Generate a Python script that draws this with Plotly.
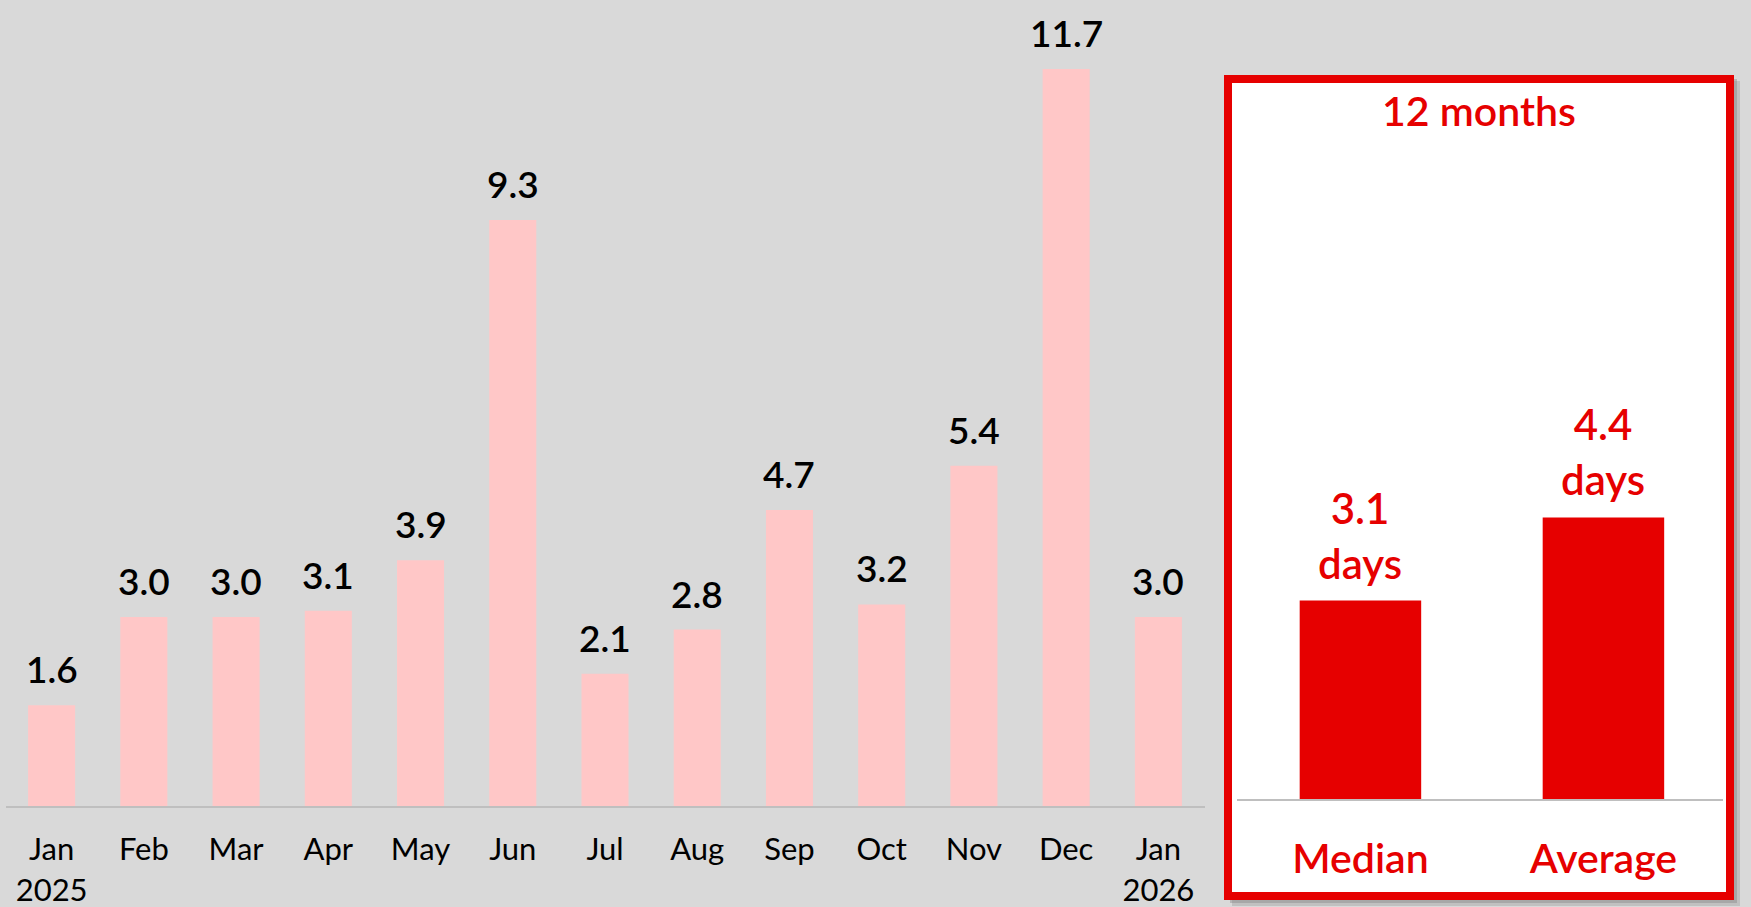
import plotly.graph_objects as go

months = ["Jan 2025", "Feb", "Mar", "Apr", "May", "Jun", "Jul", "Aug", "Sep", "Oct", "Nov", "Dec", "Jan 2026"]
month_ticks = ["Jan<br>2025", "Feb", "Mar", "Apr", "May", "Jun", "Jul", "Aug", "Sep", "Oct", "Nov", "Dec", "Jan<br>2026"]
days_values = [1.6, 3.0, 3.0, 3.1, 3.9, 9.3, 2.1, 2.8, 4.7, 3.2, 5.4, 11.7, 3.0]

stat_names = ["Median", "Average"]
stat_values = [3.1, 4.4]
panel_title = "12 months"

W, H = 1751, 907
FONT = "Lato"
RED = "#E60000"
PINK = "#FFC7C7"
BG = "#D9D9D9"

def px_x(v):
    return v / W

def px_y(v):
    return (H - v) / H

fig = go.Figure()

fig.add_trace(go.Bar(
    x=months, y=days_values, marker=dict(color=PINK, line=dict(width=0)),
    xaxis="x", yaxis="y", hoverinfo="skip", showlegend=False,
))
fig.add_trace(go.Bar(
    x=stat_names, y=stat_values, marker=dict(color=RED, line=dict(width=0)),
    xaxis="x2", yaxis="y2", hoverinfo="skip", showlegend=False,
))

annotations = []
for m, v in zip(months, days_values):
    annotations.append(dict(
        x=m, y=v, xref="x", yref="y", text=f"{v:.1f}", showarrow=False,
        yanchor="bottom", yshift=12,
        font=dict(family=FONT, size=37, color="#000000", weight=600),
    ))
for n, v in zip(stat_names, stat_values):
    annotations.append(dict(
        x=n, y=v, xref="x2", yref="y2", text=f"{v:.1f}<br>days", showarrow=False,
        yanchor="bottom", yshift=11,
        font=dict(family=FONT, size=42, color=RED, weight=600),
    ))
annotations.append(dict(
    x=px_x(1479), y=px_y(110), xref="paper", yref="paper", text=panel_title,
    showarrow=False, xanchor="center", yanchor="middle",
    font=dict(family=FONT, size=41, color=RED, weight=600),
))

shapes = [
    dict(type="rect", xref="paper", yref="paper", layer="below",
         x0=px_x(1232), x1=px_x(1740), y0=px_y(906), y1=px_y(81),
         fillcolor="rgba(120,120,120,0.25)", line=dict(width=0)),
    dict(type="rect", xref="paper", yref="paper", layer="below",
         x0=px_x(1230), x1=px_x(1737), y0=px_y(903), y1=px_y(79),
         fillcolor="rgba(120,120,120,0.35)", line=dict(width=0)),
    dict(type="rect", xref="paper", yref="paper", layer="below",
         x0=px_x(1228), x1=px_x(1730), y0=px_y(896), y1=px_y(79),
         fillcolor="#FFFFFF", line=dict(color=RED, width=8)),
]

fig.update_layout(
    width=W, height=H,
    margin=dict(l=0, r=0, t=0, b=0),
    paper_bgcolor=BG, plot_bgcolor="rgba(0,0,0,0)",
    font=dict(family=FONT),
    annotations=annotations, shapes=shapes,
    xaxis=dict(
        domain=[px_x(5.5), px_x(1204.5)], range=[-0.5, 12.5],
        tickmode="array", tickvals=months, ticktext=month_ticks,
        tickfont=dict(family=FONT, size=31, color="#000000"),
        ticklabelstandoff=15,
        showline=True, linecolor="#BFBFBF", linewidth=2, ticks="",
        showgrid=False, zeroline=False, fixedrange=True,
    ),
    yaxis=dict(
        domain=[px_y(806), 1.0], range=[0, 806 / 63.0],
        visible=False, showgrid=False, zeroline=False, fixedrange=True,
    ),
    xaxis2=dict(
        domain=[px_x(1236.5), px_x(1722.5)], range=[-0.51, 1.49], anchor="y2",
        tickfont=dict(family=FONT, size=41, color=RED, weight=600),
        ticklabelstandoff=23,
        showline=True, linecolor="#BFBFBF", linewidth=2, ticks="",
        showgrid=False, zeroline=False, fixedrange=True,
    ),
    yaxis2=dict(
        domain=[px_y(799), px_y(160)], range=[0, (799 - 160) / 64.0], anchor="x2",
        visible=False, showgrid=False, zeroline=False, fixedrange=True,
    ),
)
fig.update_traces(width=0.51, selector=dict(xaxis="x"))
fig.update_traces(width=0.5, selector=dict(xaxis="x2"))

fig.write_html(
    "out.html",
    config={"displayModeBar": False},
    post_script="document.body.style.margin='0';document.body.style.padding='0';document.body.style.overflow='hidden';",
)
